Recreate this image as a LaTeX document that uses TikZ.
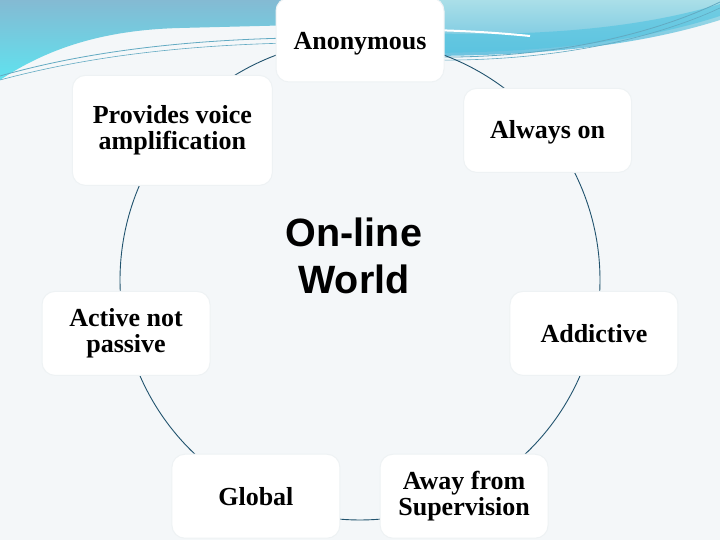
\documentclass[tikz,border=0pt]{standalone}
\usepackage{fontspec}
\setmainfont{Liberation Serif}
\newfontfamily\arialfont{Liberation Sans}
\pgfdeclarelayer{bg}
\pgfdeclarelayer{arcs}
\pgfsetlayers{bg,arcs,main}
\definecolor{bgc}{HTML}{F4F7F9}
\definecolor{arcc}{HTML}{21536E}
\definecolor{bandtop}{HTML}{84BAD3}
\definecolor{bandbot}{HTML}{5FE2EF}
\definecolor{rtop}{HTML}{AADFE8}
\definecolor{rbot}{HTML}{6CC3E0}
\definecolor{swoosh}{HTML}{4FC3E0}
\definecolor{thinl}{HTML}{62AAC2}
\definecolor{boxedge}{HTML}{EEF2F4}
\tikzset{
  x=1pt, y=1pt,
  box/.style={fill=white, draw=boxedge, line width=1pt, rounded corners=13pt,
    minimum width=168pt, minimum height=84pt, inner sep=0pt, align=center,
    font=\bfseries\fontsize{26}{26}\selectfont},
  conn/.style={draw=arcc, line width=0.9pt},
  centertext/.style={align=center, font=\arialfont\bfseries\fontsize{39.5}{47}\selectfont}
}
\begin{document}
\begin{tikzpicture}
\useasboundingbox (0,0) rectangle (720,540);
\coordinate (O) at (360,260);
% nodes
\node[box] (anon) at ([shift={(90:240)}]O) {\raisebox{-9.5pt}[0pt][0pt]{Anonymous}};
\node[box, minimum width=200pt, minimum height=110pt] (prov) at ([shift={(141.43:240)}]O) {Provides voice\\amplification};
\node[box] (always) at ([shift={(38.57:240)}]O) {\raisebox{-8.5pt}[0pt][0pt]{Always on}};
\node[box] (active) at ([shift={(192.86:240)}]O) {Active not\\passive};
\node[box] (addict) at ([shift={(-12.86:240)}]O) {Addictive};
\node[box] (global) at ([shift={(244.29:240)}]O) {Global};
\node[box] (away) at ([shift={(295.71:240)}]O) {Away from\\Supervision};
\node[centertext] (world) at (354,284) {On-line\\World};
% connectors
\begin{pgfonlayer}{arcs}
\draw[conn] (anon.center) arc[start angle=90, end angle=141.43, radius=240];
\draw[conn] (prov.center) arc[start angle=141.43, end angle=192.86, radius=240];
\draw[conn] (active.center) arc[start angle=192.86, end angle=244.29, radius=240];
\draw[conn] (global.center) arc[start angle=244.29, end angle=295.71, radius=240];
\draw[conn] (away.center) arc[start angle=295.71, end angle=347.14, radius=240];
\draw[conn] (addict.center) arc[start angle=347.14, end angle=398.57, radius=240];
\draw[conn] (always.center) arc[start angle=38.57, end angle=90, radius=240];
\end{pgfonlayer}
% background and header band
\begin{pgfonlayer}{bg}
\fill[bgc] (0,0) rectangle (720,540);
\shade[top color=bandtop, bottom color=bandbot]
  (0,540) -- (300,540) -- (300,515) -- (180,512)
  .. controls (100,510) and (45,490) .. (0,460) -- cycle;
\draw[thinl, line width=0.8pt] (0,464) .. controls (60,481) and (150,499) .. (290,502);
\draw[thinl, line width=0.6pt] (0,460) .. controls (60,476) and (150,494) .. (290,497);
\shade[top color=rtop, bottom color=rbot]
  (420,540) -- (720,540) -- (720,520)
  .. controls (650,498) and (560,484) .. (420,484) -- cycle;
\fill[swoosh, opacity=0.6]
  (420,507) .. controls (540,503) and (640,512) .. (720,536) -- (720,524)
  .. controls (640,498) and (540,487) .. (420,487) -- cycle;
\draw[white, line width=2pt] (430,510) .. controls (470,509) and (500,507) .. (530,504);
\draw[thinl, line width=0.8pt] (430,483) .. controls (560,481) and (660,509) .. (720,538);
\draw[thinl, line width=0.6pt] (430,480) .. controls (560,478) and (660,504) .. (720,532);
\end{pgfonlayer}
\end{tikzpicture}
\end{document}
